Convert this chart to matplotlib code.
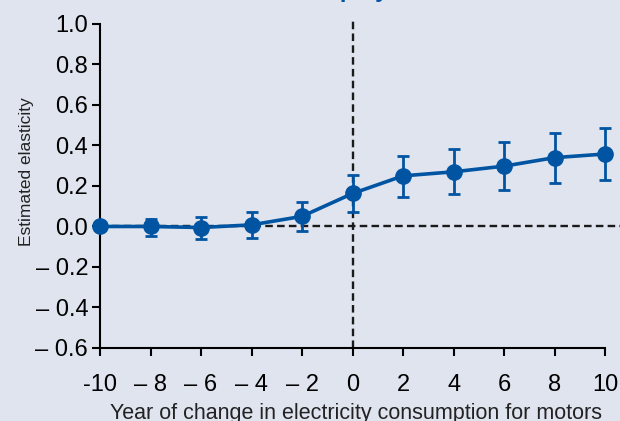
import matplotlib
matplotlib.use("Agg")
import matplotlib.pyplot as plt
from matplotlib import font_manager

# Event-study estimates around the year of change
years = [-10, -8, -6, -4, -2, 0, 2, 4, 6, 8, 10]
elasticity = [0.0, 0.0, -0.005, 0.008, 0.05, 0.163, 0.25, 0.27, 0.298, 0.34, 0.358]
ci_low = [0.0, -0.047, -0.06, -0.055, -0.022, 0.072, 0.145, 0.158, 0.178, 0.215, 0.228]
ci_high = [0.0, 0.038, 0.048, 0.07, 0.12, 0.253, 0.35, 0.383, 0.417, 0.46, 0.485]

y_ticks = [1.0, 0.8, 0.6, 0.4, 0.2, 0.0, -0.2, -0.4, -0.6]
y_tick_labels = ["1.0", "0.8", "0.6", "0.4", "0.2", "0.0", "\u2013 0.2", "\u2013 0.4", "\u2013 0.6"]
x_tick_labels = ["-10", "\u2013 8", "\u2013 6", "\u2013 4", "\u2013 2", "0", "2", "4", "6", "8", "10"]

names = {f.name for f in font_manager.fontManager.ttflist}
family = "Liberation Sans Narrow" if "Liberation Sans Narrow" in names else "Liberation Sans"
plt.rcParams["font.family"] = [family, "DejaVu Sans"]

BG = "#dfe4ef"
BLUE = "#0054a2"

W, H = 620, 421
fig = plt.figure(figsize=(W / 100, H / 100), dpi=100, facecolor=BG)
left_px, right_px = 100, 620
bottom_px, top_px = 348, 17.9
ax = fig.add_axes([left_px / W, (H - bottom_px) / H, (right_px - left_px) / W, (bottom_px - top_px) / H])
ax.set_facecolor(BG)

ax.set_xlim(-10, 10.59)
ax.set_ylim(-0.6, 1.03)

for s in ["top", "right"]:
    ax.spines[s].set_visible(False)
ax.spines["left"].set_bounds(-0.6, 1.0)
ax.spines["bottom"].set_bounds(-10, 10)
for s in ["left", "bottom"]:
    ax.spines[s].set_linewidth(1.5)
    ax.spines[s].set_color("black")

# reference lines
ax.axhline(0, color="#1a1a1a", lw=1.7, dashes=(3.2, 1.8), zorder=1, clip_on=False)
ax.axvline(0, color="#1a1a1a", lw=1.7, dashes=(3.2, 1.8), zorder=1)

yerr = [[e - lo for e, lo in zip(elasticity, ci_low)], [hi - e for e, hi in zip(elasticity, ci_high)]]
ax.errorbar(years, elasticity, yerr=yerr, color=BLUE, lw=2.6, marker="o", markersize=11,
            elinewidth=2.0, capsize=4.5, capthick=2.0, zorder=3, clip_on=False)

ax.set_xticks(years)
ax.set_xticklabels(x_tick_labels)
ax.set_yticks(y_ticks)
ax.set_yticklabels(y_tick_labels)
ax.tick_params(axis="both", direction="out", length=5.5, width=1.5, labelsize=17, colors="black")
ax.tick_params(axis="x", pad=13)
ax.tick_params(axis="y", pad=3)

ax.set_ylabel("Estimated elasticity", fontsize=12.5, color="#222222")
ax.yaxis.label.set_va("center")
ax.yaxis.set_label_coords((26 - left_px) / (right_px - left_px), (bottom_px - 172) / (bottom_px - top_px))
ax.set_xlabel("Year of change in electricity consumption for motors", fontsize=15.5, color="#222222")
ax.xaxis.label.set_va("baseline")
ax.xaxis.set_label_coords((356 - left_px) / (right_px - left_px), -(419 - bottom_px) / (bottom_px - top_px))

fig.text(0.603, 1 + 3 / H, "Employment", color=BLUE, fontsize=17, fontweight="bold",
         ha="center", va="baseline")

fig.savefig("out.png", dpi=100, facecolor=BG)
